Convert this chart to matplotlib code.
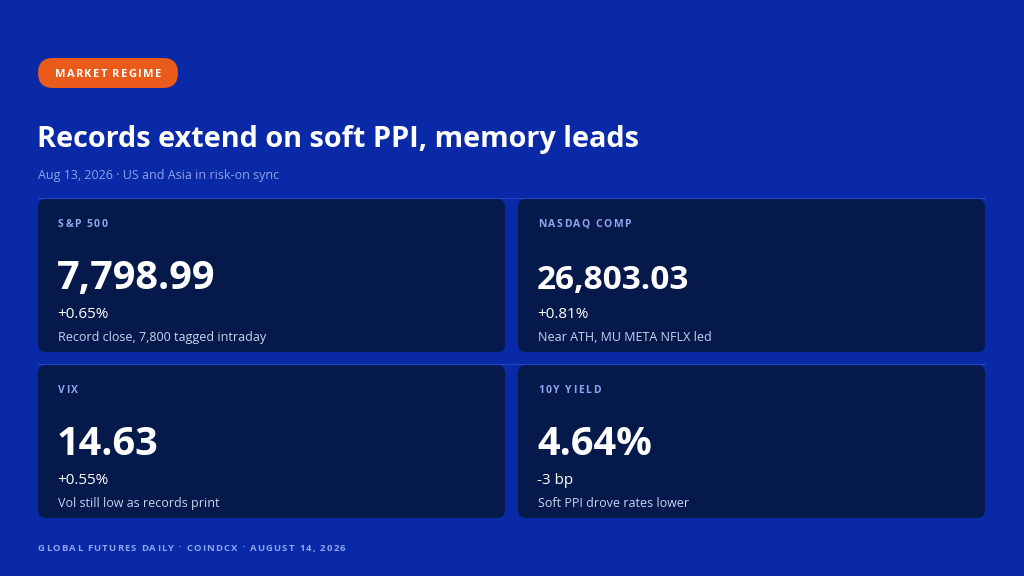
import matplotlib
matplotlib.use('Agg')
import matplotlib.pyplot as plt
from matplotlib.patches import FancyBboxPatch

plt.rcParams['font.family'] = ['Open Sans', 'DejaVu Sans']

tag = 'MARKET REGIME'
title = 'Records extend on soft PPI, memory leads'
subtitle = 'Aug 13, 2026 · US and Asia in risk-on sync'
footer = 'GLOBAL FUTURES DAILY · COINDCX · AUGUST 14, 2026'

labels = ['S&P 500', 'NASDAQ COMP', 'VIX', '10Y YIELD']
values = ['7,798.99', '26,803.03', '14.63', '4.64%']
changes = ['+0.65%', '+0.81%', '+0.55%', '-3 bp']
notes = ['Record close, 7,800 tagged intraday', 'Near ATH, MU META NFLX led',
         'Vol still low as records print', 'Soft PPI drove rates lower']

BG = '#0a29a7'
CARD = '#06194b'
ORANGE = '#e95a1b'
LABEL = '#8fa6ee'
SUB = '#8ea3e8'

fig = plt.figure(figsize=(10.24, 5.76), dpi=100)
fig.patch.set_facecolor(BG)
ax = fig.add_axes([0, 0, 1, 1])
ax.set_xlim(0, 1024)
ax.set_ylim(576, 0)
ax.axis('off')
renderer = fig.canvas.get_renderer()


def text_w(s, **kw):
    t = ax.text(0, 0, s, **kw)
    wpx = t.get_window_extent(renderer).width
    t.remove()
    return wpx


def spaced(x, y, s, spacing, ha='left', **kw):
    # draw text letter by letter to fake letter-spacing (px)
    parts = []
    cur = x
    space_w = text_w('a a', **kw) - text_w('aa', **kw)
    for ch in s:
        t = ax.text(cur, y, ch, va='baseline', **kw)
        wpx = space_w if ch == ' ' else t.get_window_extent(renderer).width
        parts.append(t)
        cur += wpx + spacing
    total = cur - spacing - x
    if ha == 'center':
        for t in parts:
            t.set_x(t.get_position()[0] - total / 2)


# tag pill
ax.add_patch(FancyBboxPatch((38, 58), 140, 30, boxstyle='round,pad=0,rounding_size=15',
                            fc=ORANGE, ec='none'))
spaced(108, 77, tag, 1.3, ha='center', color='white', fontsize=8, fontweight='bold')

ax.text(37, 147, title, color='white', fontsize=20.8, fontweight='bold', va='baseline')
ax.text(38, 179, subtitle, color=SUB, fontsize=9, va='baseline')

# faint separator lines above card rows
for yy in (198, 364):
    ax.plot([38, 985], [yy, yy], color='#2444c4', lw=0.8)

# cards
xs = [38, 518, 38, 518]
ys = [199, 199, 365, 365]
w, h = 467, 153
value_sizes = [28.5, 24, 28.5, 28.5]  # long numbers shrink to fit
for i in range(4):
    x0, y0 = xs[i], ys[i]
    ax.add_patch(FancyBboxPatch((x0, y0), w, h, boxstyle='round,pad=0,rounding_size=8',
                                fc=CARD, ec='none'))
    spaced(x0 + 20, y0 + 28, labels[i], 1.5, color=LABEL, fontsize=7.5, fontweight='bold')
    ax.text(x0 + 19, y0 + 90, values[i], color='white', fontsize=value_sizes[i],
            fontweight='bold', va='baseline')
    ax.text(x0 + 19, y0 + 119, changes[i], color='white', fontsize=11, va='baseline')
    ax.text(x0 + 20, y0 + 142, notes[i], color='#c9d3f2', fontsize=9, va='baseline')

spaced(38, 551, footer, 1.2, color=LABEL, fontsize=6.8, fontweight='bold')

fig.savefig('out.png', dpi=100, facecolor=BG)
